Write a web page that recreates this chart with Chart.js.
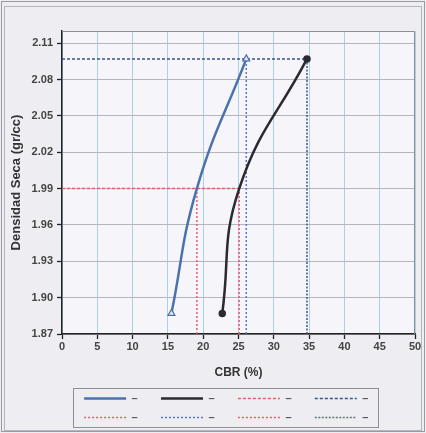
<!DOCTYPE html>
<html>
<head>
<meta charset="utf-8">
<script src="https://cdn.jsdelivr.net/npm/chart.js@4.4.1/dist/chart.umd.min.js"></script>
<style>
  html, body { margin: 0; padding: 0; background: #eeedf2; }
  #wrap { width: 426px; height: 433px; position: relative; }
</style>
</head>
<body>
<div id="wrap"><canvas id="cbrChart"></canvas></div>
<script>
// Curva azul y curva negra: CBR (%) contra densidad seca (gr/cc)
const curve1Cbr = [15.5, 19.1, 26.1];
const curve1Dens = [1.887, 1.99, 2.097];
const curve2Cbr = [22.7, 25.1, 34.7];
const curve2Dens = [1.887, 1.99, 2.097];

// Lineas de referencia (95% y 100% de la densidad maxima)
const dens95 = 1.99;
const densMax = 2.097;
const cbrAt95 = [19.1, 25.1];
const cbrAt100 = [26.1, 34.7];

// Ejes
const densTicks = [1.87, 1.90, 1.93, 1.96, 1.99, 2.02, 2.05, 2.08, 2.11];
const densMin = 1.87;
const densTop = 2.12;
const cbrMin = 0;
const cbrMax = 50;
const cbrStep = 5;

const FONT = "'Liberation Sans', Arial, sans-serif";

const toPoints = (xs, ys) => xs.map((x, i) => ({ x, y: ys[i] }));
const hLine = (y, xEnd) => [{ x: cbrMin, y }, { x: xEnd, y }];
const vLine = (x, yEnd) => [{ x, y: densMin }, { x, y: yEnd }];

const refStyle = (color, dash) => ({
    borderColor: color,
    backgroundColor: color,
    borderWidth: 1.5,
    borderDash: dash,
    pointRadius: 0,
    showLine: true,
    tension: 0
});

const datasets = [
    {
        label: 'curva 1',
        data: toPoints(curve1Cbr, curve1Dens),
        borderColor: '#4a72ad',
        backgroundColor: '#e6ecf6',
        borderWidth: 2.5,
        showLine: true,
        tension: 0.45,
        pointStyle: 'triangle',
        pointRadius: [4, 0, 4],
        pointBorderWidth: 1.2,
        pointBackgroundColor: '#e6ecf6',
        pointBorderColor: '#4a72ad'
    },
    {
        label: 'curva 2',
        data: toPoints(curve2Cbr, curve2Dens),
        borderColor: '#2a2a30',
        backgroundColor: '#2a2a30',
        borderWidth: 2.5,
        showLine: true,
        tension: 0.45,
        pointStyle: 'circle',
        pointRadius: [2.5, 0, 2.5],
        pointBackgroundColor: '#2a2a30',
        pointBorderColor: '#2a2a30'
    },
    { label: '95%', data: hLine(dens95, cbrAt95[1]), ...refStyle('#e2606c', [3, 2]) },
    { label: '100%', data: hLine(densMax, cbrAt100[1]), ...refStyle('#3a5292', [3, 2]) },
    { label: 'cbr95 1', data: vLine(cbrAt95[0], dens95), ...refStyle('#e2606c', [2, 2]) },
    { label: 'cbr100 1', data: vLine(cbrAt100[0], densMax), ...refStyle('#5a78c4', [2, 2]) },
    { label: 'cbr95 2', data: vLine(cbrAt95[1], dens95), ...refStyle('#e2606c', [2, 2]) },
    { label: 'cbr100 2', data: vLine(cbrAt100[1], densMax), ...refStyle('#3a5292', [2, 1.5]), legendColor: '#5f7a6c' }
];

// Fondo del area de trazado y marcos
const framePlugin = {
    id: 'frames',
    beforeDraw(chart) {
        const { ctx, chartArea: a } = chart;
        ctx.save();
        ctx.fillStyle = '#eeedf2';
        ctx.fillRect(0, 0, chart.width, chart.height);
        ctx.fillStyle = '#f6f5fa';
        ctx.fillRect(a.left, a.top, a.right - a.left, a.bottom - a.top);
        ctx.restore();
    },
    beforeDatasetsDraw(chart) {
        const { ctx, chartArea: a } = chart;
        ctx.save();
        ctx.strokeStyle = '#8c8c94';
        ctx.lineWidth = 1;
        ctx.beginPath();
        ctx.moveTo(a.left, a.top + 0.5);
        ctx.lineTo(a.right - 0.5, a.top + 0.5);
        ctx.lineTo(a.right - 0.5, a.bottom);
        ctx.stroke();
        ctx.restore();
    },
    afterDraw(chart) {
        const { ctx } = chart;
        ctx.save();
        // marco exterior
        ctx.strokeStyle = '#9a9aa2';
        ctx.lineWidth = 1;
        ctx.strokeRect(1.5, 1.5, chart.width - 3, chart.height - 3);
        ctx.strokeStyle = '#b4b4bc';
        ctx.strokeRect(4.5, 6.5, chart.width - 9, chart.height - 9);
        // recuadro de la leyenda
        const hb = chart.legend.legendHitBoxes;
        if (hb && hb.length) {
            const left = hb[0].left - 11;
            const right = hb[3].left + 63;
            const top = hb[0].top - 5;
            const bottom = hb[hb.length - 1].top + hb[0].height + 4;
            ctx.strokeStyle = '#8e8e96';
            ctx.strokeRect(Math.round(left) + 0.5, Math.round(top) + 0.5, Math.round(right - left), Math.round(bottom - top));
        }
        ctx.restore();
    }
};

const ctx = document.getElementById('cbrChart');
new Chart(ctx, {
    type: 'scatter',
    data: { datasets },
    options: {
        responsive: true,
        maintainAspectRatio: false,
        animation: false,
        layout: { padding: { top: 31, right: 11, left: 0, bottom: 0 } },
        scales: {
            x: {
                type: 'linear',
                min: cbrMin,
                max: cbrMax,
                afterFit: scale => { scale.height = 51; },
                ticks: {
                    stepSize: cbrStep,
                    padding: 1,
                    color: '#444',
                    font: { family: FONT, size: 11, weight: 'bold' }
                },
                grid: { color: '#a9d2e2', lineWidth: 1, tickColor: '#222', tickLength: 5, tickWidth: 1.3 },
                border: { color: '#222', width: 1.5 },
                title: {
                    display: true,
                    text: 'CBR (%)',
                    color: '#333',
                    font: { family: FONT, size: 12, weight: 'bold' },
                    padding: { top: 0, bottom: 5 }
                }
            },
            y: {
                type: 'linear',
                min: densMin,
                max: densTop,
                afterFit: scale => { scale.width = 62; },
                afterBuildTicks: scale => { scale.ticks = densTicks.map(v => ({ value: v })); },
                ticks: {
                    padding: 4,
                    color: '#444',
                    font: { family: FONT, size: 11, weight: 'bold' },
                    callback: v => Number(v).toFixed(2)
                },
                grid: { color: '#b6b5bd', lineWidth: 1, tickColor: '#222', tickLength: 5, tickWidth: 1.3 },
                border: { color: '#222', width: 1.5 },
                title: {
                    display: true,
                    text: 'Densidad Seca (gr/cc)',
                    color: '#333',
                    font: { family: FONT, size: 13, weight: 'bold' },
                    padding: { top: 9, bottom: 0 }
                }
            }
        },
        plugins: {
            tooltip: { enabled: false },
            legend: {
                position: 'bottom',
                fullSize: false,
                labels: {
                    usePointStyle: true,
                    pointStyleWidth: 42,
                    padding: 8,
                    color: '#555',
                    font: { family: FONT, size: 11, weight: 'bold' },
                    // el ultimo de cada fila lleva espacio extra para centrar la leyenda
                    generateLabels: chart => chart.data.datasets.map((ds, i) => ({
                        text: i % 4 === 3 ? '\u2013        ' : '\u2013     ',
                        fillStyle: ds.legendColor || ds.borderColor,
                        strokeStyle: ds.legendColor || ds.borderColor,
                        lineWidth: ds.borderWidth,
                        lineDash: ds.borderDash || [],
                        pointStyle: 'line',
                        fontColor: '#555',
                        hidden: false,
                        datasetIndex: i
                    }))
                }
            }
        }
    },
    plugins: [framePlugin]
});
</script>
</body>
</html>
